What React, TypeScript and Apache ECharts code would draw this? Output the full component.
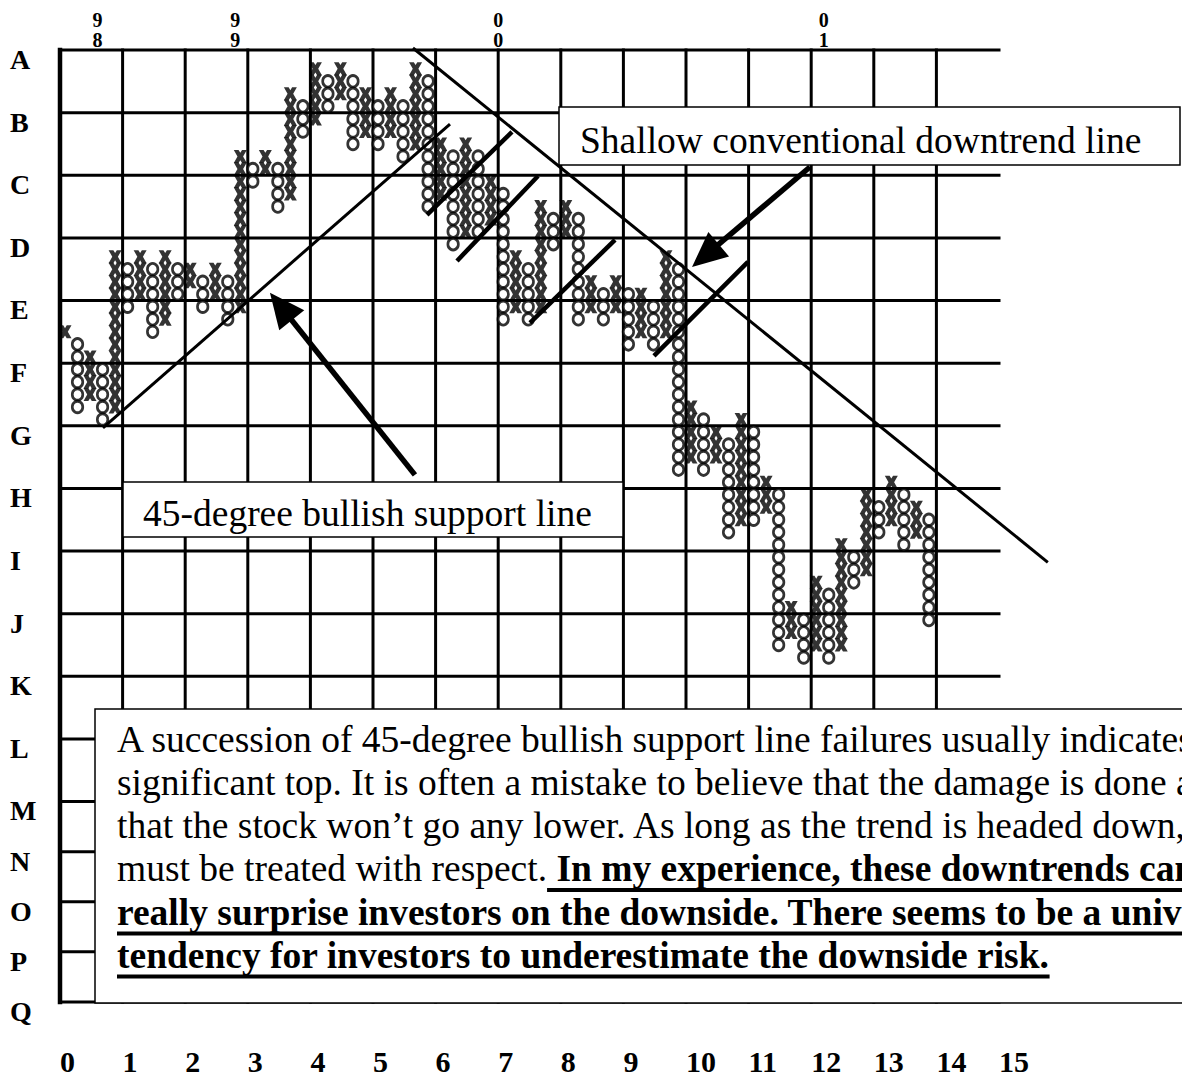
import { useEffect, useRef } from "react";
import * as echarts from "echarts";

const FONT = "'Liberation Serif', 'Times New Roman', serif";

// Row letters and the box positions of the horizontal grid lines (1 unit = 1 box)
const rowLetters = ["A", "B", "C", "D", "E", "F", "G", "H", "I", "J", "K", "L", "M", "N", "O", "P", "Q"];
const rowLines = [0, 5, 10, 15, 20, 25, 30, 35, 40, 45, 50, 55, 60, 64, 68, 72, 76];
// vertical grid lines (in column units)
const colLines = [0, 5, 10, 15, 20, 25, 30, 35, 40, 45, 50, 55, 60, 65, 70];
// bottom tick labels
const xTickValues = [0, 5, 10, 15, 20, 25, 30, 35, 40, 45, 50, 55, 60, 65, 70, 75];
const xTickLabels = ["0", "1", "2", "3", "4", "5", "6", "7", "8", "9", "10", "11", "12", "13", "14", "15"];
// year markers along the top
const yearValues = [3, 14, 35, 61];
const yearLabels = ["98", "99", "00", "01"];

// Point & figure columns: even index = X column, odd index = O column.
// top / bottom box index counted downward from the top grid line.
const columnTop = [22, 23, 24, 25, 16, 17, 16, 17, 16, 17, 17, 18, 17, 18, 8, 9, 8, 9, 3, 4, 1, 2, 1, 2, 3, 4, 3, 4, 1, 2, 7, 8, 7, 8, 10, 11, 16, 17, 12, 13, 12, 13, 18, 19, 18, 19, 19, 20, 16, 17, 28, 29, 30, 31, 29, 30, 34, 35, 44, 45, 42, 43, 39, 40, 35, 36, 34, 35, 36, 37];
const columnBottom = [22, 28, 27, 29, 28, 20, 19, 22, 21, 19, 18, 20, 19, 21, 20, 10, 9, 12, 11, 6, 5, 4, 3, 7, 6, 7, 6, 8, 7, 12, 11, 15, 14, 14, 13, 21, 20, 21, 20, 15, 14, 21, 20, 21, 20, 23, 22, 23, 22, 33, 32, 33, 32, 38, 37, 37, 36, 47, 46, 48, 47, 48, 47, 42, 41, 38, 37, 39, 38, 45];

// Trend lines in chart units [x1, y1, x2, y2]
const supportLine = [3.43, 30.17, 31.15, 5.91];
const downtrendLine = [28.19, -0.16, 78.9, 40.9];
const failureLines = [
  [29.31, 13.17, 36.1, 6.54],
  [31.71, 16.84, 38.18, 10.06],
  [37.54, 21.79, 44.33, 15.16],
  [47.44, 24.42, 54.95, 16.92],
];
// Arrows [tailX, tailY, tipX, tipY]
const arrowLines = [
  [28.35, 33.92, 16.77, 19.39],
  [59.9, 9.34, 50.48, 17.32],
];

const shallowLabel = "Shallow conventional downtrend line";
const supportLabel = "45-degree bullish support line";
const noteLines = [
  "A succession of 45-degree bullish support line failures usually indicates a",
  "significant top. It is often a mistake to believe that the damage is done and",
  "that the stock won\u2019t go any lower. As long as the trend is headed down, it",
];
const noteLine4Normal = "must be treated with respect.";
const noteLine4Bold = " In my experience, these downtrends can";
const noteBoldLines = [
  "really surprise investors on the downside. There seems to be a universal",
  "tendency for investors to underestimate the downside risk.",
];

const X_SYMBOL = "path://M0,0L4.4,0L6,2.6L7.6,0L12,0L8.6,6L12,12L7.6,12L6,9.4L4.4,12L0,12L3.4,6Z";

function buildPoints(wantX: boolean) {
  const pts: number[][] = [];
  columnTop.forEach((top, c) => {
    const isX = c % 2 === 0;
    if (isX !== wantX) return;
    for (let b = top; b <= columnBottom[c]; b++) pts.push([c + 0.4, b + 0.5]);
  });
  return pts;
}

function nearestIndex(arr: number[], v: number) {
  let best = 0;
  arr.forEach((a, i) => {
    if (Math.abs(a - v) < Math.abs(arr[best] - v)) best = i;
  });
  return best;
}

function measure(text: string, font: string) {
  const ctx = document.createElement("canvas").getContext("2d")!;
  ctx.font = font;
  return ctx.measureText(text).width;
}

const lineRenderer = (width: number, cap: string) => (params: any, api: any) => {
  const a = api.coord([api.value(0), api.value(1)]);
  const b = api.coord([api.value(2), api.value(3)]);
  const isBorder = api.value(0) === 0 && api.value(2) === 0;
  return {
    type: "line",
    shape: { x1: a[0], y1: a[1], x2: b[0], y2: b[1] },
    style: { stroke: "#000", lineWidth: isBorder ? width + 1.5 : width, lineCap: cap },
  };
};

const arrowRenderer = (params: any, api: any) => {
  const t = api.coord([api.value(0), api.value(1)]);
  const h = api.coord([api.value(2), api.value(3)]);
  const dx = h[0] - t[0];
  const dy = h[1] - t[1];
  const len = Math.hypot(dx, dy);
  const ux = dx / len;
  const uy = dy / len;
  const L = 35;
  const W = 16;
  const bx = h[0] - ux * L;
  const by = h[1] - uy * L;
  return {
    type: "group",
    children: [
      {
        type: "line",
        shape: { x1: t[0], y1: t[1], x2: bx + ux * 6, y2: by + uy * 6 },
        style: { stroke: "#000", lineWidth: 5.5 },
      },
      {
        type: "polygon",
        shape: { points: [[h[0], h[1]], [bx - uy * W, by + ux * W], [bx + uy * W, by - ux * W]] },
        style: { fill: "#000" },
      },
    ],
  };
};

export default function App() {
  const ref = useRef<HTMLDivElement>(null);

  useEffect(() => {
    if (!ref.current) return;
    const chart = echarts.init(ref.current, undefined, { renderer: "svg" });

    const fs = 37.5;
    const normalFont = `${fs}px 'Liberation Serif'`;
    const boldFont = `bold ${fs}px 'Liberation Serif'`;
    const textX = 117;
    const baselines = [752, 795, 838, 881.5, 925, 968];
    const mid = (b: number) => b - 0.3375 * fs;
    const w4n = measure(noteLine4Normal, normalFont);
    const w4b = measure(noteLine4Bold, boldFont);
    const w5 = measure(noteBoldLines[0], boldFont);
    const w6 = measure(noteBoldLines[1], boldFont);

    const txt = (text: string, x: number, y: number, bold = false) => ({
      type: "text",
      x,
      y,
      z: 11,
      silent: true,
      style: {
        text,
        fontSize: fs,
        fontFamily: FONT,
        fontWeight: bold ? "bold" : "normal",
        fill: "#000",
        verticalAlign: "middle",
        align: "left",
      },
    });
    const uline = (x1: number, x2: number, base: number) => ({
      type: "line",
      z: 11,
      silent: true,
      shape: { x1, y1: base + 8.5, x2, y2: base + 8.5 },
      style: { stroke: "#000", lineWidth: 4 },
    });

    const rowLabelValues = rowLines.map((v) => v + 0.75);

    const option: any = {
      animation: false,
      backgroundColor: "#fff",
      grid: { left: 60, top: 50, width: 939, height: 977.6 },
      xAxis: [
        {
          type: "value",
          min: 0,
          max: 75,
          position: "bottom",
          axisLine: { show: false },
          axisTick: { show: false },
          splitLine: { show: false },
          axisLabel: {
            customValues: xTickValues,
            showMinLabel: true,
            showMaxLabel: true,
            formatter: (v: number) => xTickLabels[nearestIndex(xTickValues, v)],
            fontFamily: FONT,
            fontSize: 30,
            fontWeight: "bold",
            color: "#000",
            align: "left",
            margin: 19,
          },
        },
        {
          type: "value",
          min: 0,
          max: 75,
          position: "top",
          axisLine: { show: false },
          axisTick: { show: false },
          splitLine: { show: false },
          axisLabel: {
            customValues: yearValues,
            showMinLabel: true,
            showMaxLabel: true,
            formatter: (v: number) => yearLabels[nearestIndex(yearValues, v)].split("").join("\n"),
            fontFamily: FONT,
            fontSize: 20,
            lineHeight: 20,
            fontWeight: "bold",
            color: "#000",
            margin: 0,
            verticalAlign: "bottom",
          },
        },
      ],
      yAxis: {
        type: "value",
        min: 0,
        max: 78,
        inverse: true,
        axisLine: { show: false },
        axisTick: { show: false },
        splitLine: { show: false },
        axisLabel: {
          customValues: rowLabelValues,
          showMinLabel: true,
          showMaxLabel: true,
          formatter: (v: number) => rowLetters[nearestIndex(rowLabelValues, v)],
          fontFamily: FONT,
          fontSize: 28,
          fontWeight: "bold",
          color: "#000",
          align: "left",
          verticalAlign: "middle",
          margin: 50,
        },
      },
      series: [
        {
          type: "custom",
          name: "hgrid",
          coordinateSystem: "cartesian2d",
          encode: { x: [0, 2], y: [1, 3] },
          data: rowLines.map((v) => [0, v, 75, v]),
          renderItem: lineRenderer(3, "square"),
          silent: true,
          clip: false,
          z: 1,
        },
        {
          type: "custom",
          name: "vgrid",
          coordinateSystem: "cartesian2d",
          encode: { x: [0, 2], y: [1, 3] },
          data: colLines.map((v) => [v, 0, v, 76]),
          renderItem: lineRenderer(3, "square"),
          silent: true,
          clip: false,
          z: 1,
        },
        {
          type: "scatter",
          name: "X",
          data: buildPoints(true),
          symbol: X_SYMBOL,
          symbolSize: 13,
          itemStyle: { color: "#000" },
          silent: true,
          z: 3,
        },
        {
          type: "scatter",
          name: "O",
          data: buildPoints(false),
          symbol: "circle",
          symbolSize: [10.5, 11.5],
          itemStyle: { color: "#fff", borderColor: "#000", borderWidth: 2.8 },
          silent: true,
          z: 4,
        },
        {
          type: "custom",
          name: "trend",
          coordinateSystem: "cartesian2d",
          encode: { x: [0, 2], y: [1, 3] },
          data: [supportLine, downtrendLine],
          renderItem: lineRenderer(3, "butt"),
          silent: true,
          clip: false,
          z: 5,
        },
        {
          type: "custom",
          name: "failures",
          coordinateSystem: "cartesian2d",
          encode: { x: [0, 2], y: [1, 3] },
          data: failureLines,
          renderItem: lineRenderer(4.5, "butt"),
          silent: true,
          clip: false,
          z: 5,
        },
        {
          type: "custom",
          name: "arrows",
          coordinateSystem: "cartesian2d",
          encode: { x: [0, 2], y: [1, 3] },
          data: arrowLines,
          renderItem: arrowRenderer,
          silent: true,
          clip: false,
          z: 20,
        },
      ],
      graphic: {
        elements: [
          {
            type: "rect",
            z: 10,
            silent: true,
            shape: { x: 559, y: 107, width: 621, height: 58 },
            style: { fill: "#fff", stroke: "#000", lineWidth: 1.5 },
          },
          txt(shallowLabel, 580, mid(153)),
          {
            type: "rect",
            z: 10,
            silent: true,
            shape: { x: 123, y: 482, width: 500, height: 55 },
            style: { fill: "#fff", stroke: "#000", lineWidth: 1.5 },
          },
          txt(supportLabel, 143, mid(526)),
          {
            type: "rect",
            z: 10,
            silent: true,
            shape: { x: 95, y: 709, width: 1200, height: 294 },
            style: { fill: "#fff", stroke: "#000", lineWidth: 1.5 },
          },
          txt(noteLines[0], textX, mid(baselines[0])),
          txt(noteLines[1], textX, mid(baselines[1])),
          txt(noteLines[2], textX, mid(baselines[2])),
          txt(noteLine4Normal, textX, mid(baselines[3])),
          txt(noteLine4Bold, textX + w4n, mid(baselines[3]), true),
          txt(noteBoldLines[0], textX, mid(baselines[4]), true),
          txt(noteBoldLines[1], textX, mid(baselines[5]), true),
          uline(textX + w4n, textX + w4n + w4b, baselines[3]),
          uline(textX, textX + w5, baselines[4]),
          uline(textX, textX + w6, baselines[5]),
        ],
      },
    };

    chart.setOption(option);
    return () => chart.dispose();
  }, []);

  return (
    <div
      ref={ref}
      style={{
        position: "fixed",
        left: 0,
        top: 0,
        width: 1182,
        height: 1076,
        overflow: "hidden",
        background: "#fff",
      }}
    />
  );
}
